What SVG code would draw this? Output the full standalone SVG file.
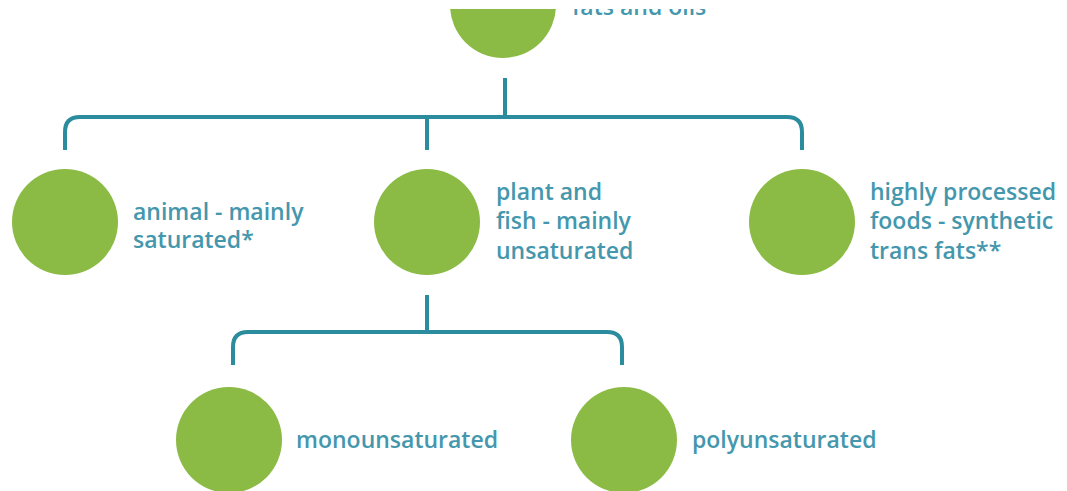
<svg xmlns="http://www.w3.org/2000/svg" width="1067" height="491" viewBox="0 0 1067 491">
<style>
.n{fill:#8bbb45}
.t{font-family:"Open Sans","Liberation Sans",sans-serif;font-weight:600;font-size:23px;fill:#4497ad}
.c{fill:none;stroke:#2a8c9c;stroke-width:4;stroke-linecap:butt}
</style>
<defs><clipPath id="top"><rect x="0" y="9" width="1067" height="482"/></clipPath></defs>
<rect width="1067" height="491" fill="#ffffff"/>
<g id="connectors">
<path class="c" d="M505 78V117"/>
<path class="c" d="M65 150V132Q65 117 80 117H787Q802 117 802 132V150"/>
<path class="c" d="M427 117V150"/>
<path class="c" d="M427 295V332"/>
<path class="c" d="M233 365V347Q233 332 248 332H607Q622 332 622 347V365"/>
</g>
<g id="root" clip-path="url(#top)"><circle class="n" cx="503" cy="5" r="53"/><text class="t" x="572" y="15">fats and oils</text></g>
<g id="animal"><circle class="n" cx="65" cy="222" r="53"/><text class="t" x="133" y="220">animal - mainly</text><text class="t" x="133" y="248">saturated*</text></g>
<g id="plant"><circle class="n" cx="427" cy="222" r="53"/><text class="t" x="496" y="200">plant and</text><text class="t" x="496" y="229">fish - mainly</text><text class="t" x="496" y="259">unsaturated</text></g>
<g id="processed"><circle class="n" cx="802" cy="222" r="53"/><text class="t" x="870" y="200">highly processed</text><text class="t" x="870" y="229">foods - synthetic</text><text class="t" x="870" y="259">trans fats**</text></g>
<g id="mono"><circle class="n" cx="229" cy="440" r="53"/><text class="t" x="296" y="448">monounsaturated</text></g>
<g id="poly"><circle class="n" cx="624" cy="440" r="53"/><text class="t" x="692" y="448">polyunsaturated</text></g>
</svg>
